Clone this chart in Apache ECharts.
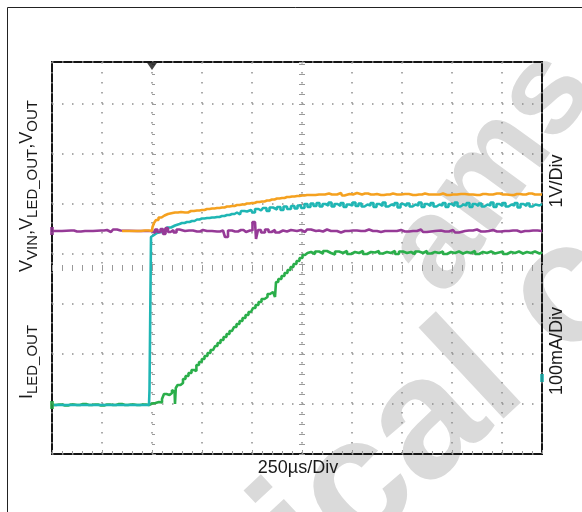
<!DOCTYPE html>
<html>
<head>
<meta charset="utf-8">
<script src="https://cdn.jsdelivr.net/npm/echarts@6/dist/echarts.min.js"></script>
<style>
  html, body { margin: 0; padding: 0; background: #ffffff; }
  #chart { width: 582px; height: 512px; }
</style>
</head>
<body>
<div id="chart"></div>
<script>
// Horizontal axis: time in µs relative to the trigger, 250 µs per division
const timeRange = [-500, 1950];
const timePerDiv = 250;
// Vertical axis: screen divisions counted from the bottom of the graticule
const divRange = [0, 7.84];
const triggerTime = 0;

// V_VIN trace (purple)
const vinTrace = [
  [-495,4.46],[-405,4.47],[-375,4.45],[-335,4.46],[-255,4.47],[-225,4.48],[-205,4.44],[-185,4.49],[-165,4.47],[-150,4.46],
  [0,4.46],[10,4.42],[20,4.49],[35,4.44],[50,4.50],[60,4.40],[75,4.52],[85,4.44],[100,4.48],[115,4.43],[130,4.49],[145,4.46],
  [185,4.47],[225,4.45],[255,4.48],[275,4.46],[325,4.45],[355,4.47],[375,4.34],[385,4.47],[415,4.45],[445,4.48],[470,4.44],
  [490,4.47],[515,4.64],[525,4.30],[535,4.48],[555,4.43],[575,4.49],[590,4.44],[605,4.48],[625,4.43],[645,4.47],[665,4.45],
  [685,4.48],[705,4.46],[745,4.48],[765,4.44],[785,4.49],[805,4.46],[835,4.47],[855,4.45],[875,4.49],[895,4.46],[925,4.46],
  [945,4.43],[965,4.46],[1005,4.47],[1045,4.46],[1085,4.49],[1105,4.46],[1145,4.44],[1165,4.46],[1205,4.46],[1245,4.48],
  [1265,4.45],[1305,4.46],[1345,4.49],[1365,4.44],[1385,4.46],[1445,4.47],[1465,4.45],[1505,4.48],[1525,4.43],[1545,4.46],
  [1585,4.47],[1625,4.49],[1645,4.45],[1685,4.46],[1705,4.48],[1725,4.45],[1765,4.46],[1805,4.47],[1845,4.44],[1865,4.46],
  [1905,4.47],[1950,4.46]
];

// V_OUT trace (orange)
const voutTrace = [
  [-150,4.46],[-75,4.46],[-35,4.47],[0,4.46],[5,4.54],[15,4.62],[25,4.68],[40,4.73],[55,4.77],[70,4.80],[90,4.82],
  [115,4.83],[145,4.84],[165,4.83],[195,4.86],[225,4.87],[250,4.88],[275,4.90],[300,4.91],[325,4.92],[350,4.93],
  [375,4.95],[400,4.96],[425,4.98],[450,4.99],[475,5.01],[500,5.02],[525,5.04],[550,5.05],[575,5.07],[600,5.09],
  [625,5.11],[650,5.12],[675,5.14],[700,5.15],[725,5.16],[750,5.17],[775,5.18],[800,5.18],[835,5.19],[865,5.19],
  [885,5.21],[900,5.19],[925,5.19],[945,5.22],[955,5.17],[970,5.20],[1005,5.19],[1025,5.22],[1035,5.19],[1065,5.21],
  [1095,5.19],[1125,5.20],[1145,5.18],[1175,5.19],[1205,5.21],[1225,5.19],[1265,5.20],[1305,5.18],[1335,5.19],
  [1365,5.21],[1385,5.19],[1425,5.19],[1455,5.21],[1475,5.18],[1505,5.19],[1545,5.20],[1585,5.19],[1625,5.18],
  [1655,5.20],[1685,5.19],[1725,5.21],[1755,5.19],[1795,5.18],[1825,5.20],[1855,5.19],[1885,5.21],[1915,5.19],[1950,5.19]
];

// V_LED_OUT trace (cyan)
const vledTrace = [
  [-495,0.98],[-15,0.98],[-10,1.28],[0,4.34],[10,4.38],[25,4.42],[45,4.44],[65,4.48],[85,4.53],[105,4.57],[125,4.60],
  [150,4.62],[175,4.64],[200,4.66],[225,4.69],[250,4.71],[275,4.72],[300,4.73],[325,4.74],[350,4.76],[375,4.78],
  [400,4.80],[425,4.83],[440,4.79],[450,4.86],[475,4.85],[495,4.88],[510,4.83],[520,4.90],[545,4.87],[565,4.92],
  [580,4.86],[595,4.93],[615,4.89],[635,4.94],[650,4.88],[665,4.95],[685,4.90],[705,4.96],[720,4.91],[735,4.97],
  [755,4.92],[770,5.00],[785,4.94],[800,5.01],[815,4.96],[830,5.02],[845,4.95],[860,5.00],[875,4.97],[890,5.03],
  [905,4.95],[920,5.00],[935,4.96],[950,5.02],[965,4.94],[980,4.99],[995,4.97],[1010,5.03],[1025,4.96],[1040,5.01],
  [1055,4.95],[1070,4.99],[1085,4.97],[1100,5.02],[1115,4.94],[1130,5.00],[1145,4.96],[1160,5.03],[1175,4.95],
  [1190,4.99],[1205,4.97],[1220,5.02],[1235,4.93],[1250,5.00],[1265,4.96],[1280,5.01],[1295,4.95],[1310,4.99],
  [1325,4.97],[1340,5.03],[1355,4.94],[1370,5.00],[1385,4.96],[1400,5.02],[1415,4.95],[1430,4.99],[1445,4.97],
  [1460,5.02],[1475,4.94],[1490,5.00],[1505,4.96],[1520,5.03],[1535,4.95],[1550,4.99],[1565,4.97],[1580,5.02],
  [1595,4.94],[1610,5.00],[1625,4.96],[1640,5.01],[1655,4.95],[1670,4.99],[1685,4.97],[1700,5.03],[1715,4.94],
  [1730,5.00],[1745,4.96],[1760,5.02],[1775,4.95],[1790,4.99],[1805,4.97],[1820,5.02],[1835,4.93],[1850,5.00],
  [1865,4.96],[1880,5.01],[1895,4.95],[1910,4.99],[1925,4.97],[1950,5.00]
];

// I_LED_OUT trace (green)
const iledTrace = [
  [-495,0.98],[-465,0.99],[-435,0.97],[-405,0.99],[-375,0.98],[-345,1.00],[-315,0.98],[-285,0.99],[-255,0.97],
  [-225,0.99],[-195,0.98],[-165,1.00],[-135,0.98],[-105,0.99],[-75,0.98],[-45,0.99],[-15,0.98],[0,1.01],[10,1.02],
  [25,1.04],[45,1.03],[55,1.10],[65,1.20],[80,1.18],[95,1.22],[105,1.28],[113,1.24],[117,1.00],[121,1.32],[135,1.38],
  [150,1.42],[160,1.50],[175,1.56],[190,1.62],[205,1.68],[217,1.66],[227,1.78],[243,1.84],[255,1.90],[270,1.96],
  [285,2.02],[300,2.08],[311,2.05],[320,2.16],[335,2.22],[350,2.28],[365,2.34],[380,2.40],[395,2.46],[405,2.44],
  [415,2.54],[430,2.60],[445,2.66],[460,2.72],[475,2.78],[490,2.84],[500,2.82],[510,2.92],[525,2.98],[540,3.04],
  [555,3.10],[570,3.14],[585,3.20],[595,3.18],[605,3.24],[613,3.28],[617,3.14],[623,3.44],[640,3.50],[655,3.56],
  [670,3.62],[685,3.68],[700,3.74],[715,3.80],[730,3.86],[745,3.92],[760,3.98],[770,4.02],[785,4.04],[805,4.00],
  [825,4.05],[845,4.01],[865,4.06],[885,4.02],[905,3.99],[925,4.05],[945,4.02],[965,4.06],[985,4.00],[1005,4.04],
  [1025,4.02],[1045,4.06],[1065,4.00],[1085,4.04],[1105,4.03],[1125,4.06],[1145,4.01],[1165,4.04],[1185,4.02],
  [1205,4.06],[1225,4.00],[1245,4.05],[1265,4.02],[1285,4.04],[1305,4.00],[1325,4.05],[1345,4.02],[1365,4.06],
  [1385,4.01],[1405,4.04],[1425,4.02],[1445,4.05],[1465,4.00],[1485,4.04],[1505,4.02],[1525,4.05],[1545,4.01],
  [1565,4.04],[1585,4.02],[1605,4.06],[1625,4.00],[1645,4.04],[1665,4.02],[1685,4.05],[1705,4.01],[1725,4.03],
  [1745,4.05],[1765,4.00],[1785,4.04],[1805,4.02],[1825,4.05],[1845,4.01],[1865,4.04],[1885,4.02],[1905,4.05],
  [1925,4.01],[1950,4.03]
];

// Channel ground-level markers on the graticule edges
const leftMarkers = [[4.46, '#963a97'], [0.98, '#2aae4a']];
const rightMarkers = [[1.52, '#1fb6b4']];

const traceColors = { vin: '#963a97', vout: '#f5a11f', vled: '#1fb6b4', iled: '#2aae4a' };
const textFont = '"Liberation Sans", Arial, sans-serif';

const chart = echarts.init(document.getElementById('chart'), null, { renderer: 'canvas' });

const dotted = { color: '#8f8f8f', width: 1.5, type: [1.5, 8.5] };
const tickGray = { color: '#9a9a9a', width: 1 };

function trace(data, color, z) {
  return {
    type: 'line', data, step: 'middle', symbol: 'none', z,
    lineStyle: { color, width: 2.6 }, animation: false, silent: true
  };
}

const series = [
  trace(iledTrace, traceColors.iled, 3),
  trace(vledTrace, traceColors.vled, 4),
  trace(vinTrace, traceColors.vin, 5),
  trace(voutTrace, traceColors.vout, 6),
  {
    type: 'scatter', z: 10, clip: false, silent: true, symbol: 'rect', symbolSize: [4, 8],
    data: leftMarkers.map(m => ({ value: [timeRange[0], m[0]], itemStyle: { color: m[1] } }))
  },
  {
    type: 'scatter', z: 10, clip: false, silent: true, symbol: 'rect', symbolSize: [4, 8],
    data: rightMarkers.map(m => ({ value: [timeRange[1], m[0]], itemStyle: { color: m[1] } }))
  },
  {
    type: 'scatter', z: 10, clip: false, silent: true, symbol: 'triangle', symbolRotate: 180,
    symbolSize: [11, 8], symbolOffset: [0, 4], itemStyle: { color: '#111111' },
    data: [[triggerTime, divRange[1]]]
  }
];

const richLabel = {
  m: { fontSize: 18, fontFamily: textFont, color: '#1a1a1a', lineHeight: 18, verticalAlign: 'top' },
  s: { fontSize: 15, fontFamily: textFont, color: '#1a1a1a', lineHeight: 30, verticalAlign: 'middle' }
};

function sideText(x, y, text, rich) {
  return {
    type: 'text', x, y, rotation: Math.PI / 2, z: 20,
    style: { text, rich, font: '18px ' + textFont, fill: '#1a1a1a', align: 'center', verticalAlign: 'middle' }
  };
}

chart.setOption({
  backgroundColor: '#ffffff',
  animation: false,
  grid: { left: 52, top: 62, width: 490, height: 392, show: true, borderColor: '#151515', borderWidth: 2, backgroundColor: 'transparent' },
  xAxis: [
    {
      type: 'value', min: timeRange[0], max: timeRange[1], interval: timePerDiv, position: 'bottom',
      axisLine: { show: false }, axisLabel: { show: false },
      axisTick: { show: true, inside: true, length: 4, lineStyle: tickGray },
      minorTick: { show: true, splitNumber: 5, length: 3, lineStyle: tickGray },
      splitLine: { show: true, lineStyle: dotted }
    },
    {
      type: 'value', min: timeRange[0], max: timeRange[1], interval: timePerDiv, position: 'bottom', offset: -203,
      axisLine: { show: false }, axisLabel: { show: false },
      axisTick: { show: true, length: 6, lineStyle: tickGray },
      minorTick: { show: true, splitNumber: 5, length: 6, lineStyle: tickGray },
      splitLine: { show: false }
    }
  ],
  yAxis: [
    {
      type: 'value', min: divRange[0], max: divRange[1], interval: 1, position: 'left',
      axisLine: { show: false }, axisLabel: { show: false },
      axisTick: { show: true, inside: true, length: 4, lineStyle: tickGray },
      minorTick: { show: true, splitNumber: 5, length: 3, lineStyle: tickGray },
      splitLine: { show: true, lineStyle: dotted }
    },
    {
      type: 'value', min: divRange[0], max: divRange[1], interval: 1, position: 'left', offset: -253,
      axisLine: { show: false }, axisLabel: { show: false },
      axisTick: { show: true, length: 6, lineStyle: tickGray },
      minorTick: { show: true, splitNumber: 5, length: 6, lineStyle: tickGray },
      splitLine: { show: false }
    }
  ],
  series,
  graphic: [
    // page watermark
    {
      type: 'text', x: 492, y: 172, rotation: 54 * Math.PI / 180, z: -10, silent: true,
      style: { text: 'ams', font: 'bold 130px ' + textFont, fill: '#dadada', align: 'center', verticalAlign: 'middle' }
    },
    {
      type: 'text', x: -48, y: 868, rotation: 43 * Math.PI / 180, z: -10, silent: true,
      style: { text: 'technical content', font: 'bold 172px ' + textFont, fill: '#dadada', align: 'left', verticalAlign: 'middle' }
    },
    // figure frame
    {
      type: 'rect', z: -5, silent: true,
      shape: { x: 7.5, y: 7.5, width: 620, height: 620 },
      style: { fill: 'none', stroke: '#222222', lineWidth: 1 }
    },
    sideText(33, 186, '{m|V}{s|VIN}{m|,V}{s|LED_OUT}{m|,V}{s|OUT}', richLabel),
    sideText(33, 362, '{m|I}{s|LED_OUT}', richLabel),
    sideText(557, 181, '1V/Div', null),
    sideText(557, 351, '100mA/Div', null),
    {
      type: 'text', x: 298, y: 468, z: 20,
      style: { text: '250µs/Div', font: '18px ' + textFont, fill: '#1a1a1a', align: 'center', verticalAlign: 'middle' }
    }
  ]
});
</script>
</body>
</html>
